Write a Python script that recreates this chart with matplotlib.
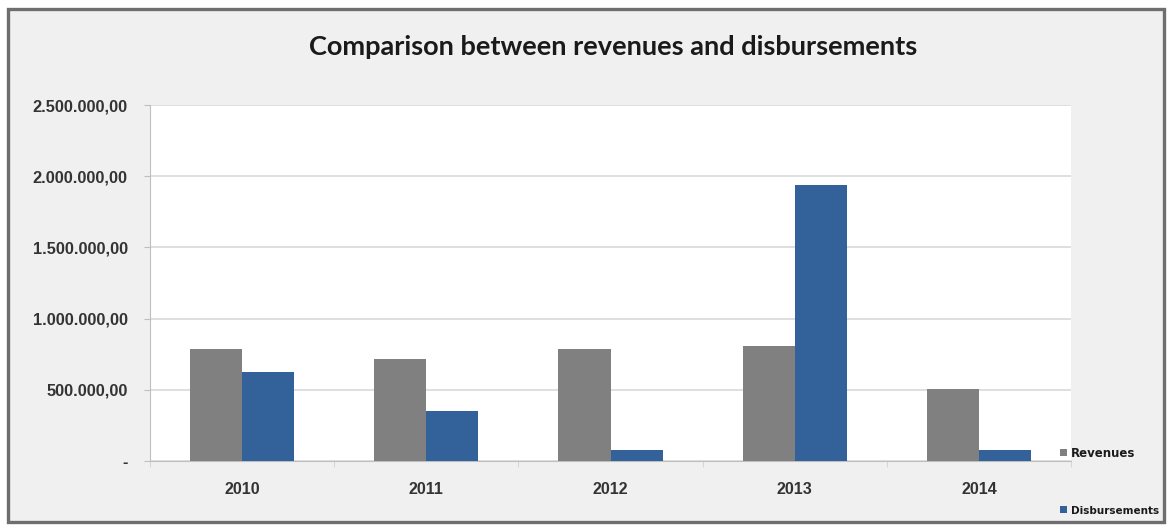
import numpy as np
import matplotlib.pyplot as plt
from matplotlib.patches import Rectangle
from matplotlib.ticker import FuncFormatter, MultipleLocator, FixedLocator

years = ['2010', '2011', '2012', '2013', '2014']
revenues = [785000, 715000, 785000, 806000, 507000]
disbursements = [626000, 353000, 77000, 1940000, 77000]

def br_money(v, pos=None):
    if v == 0:
        return '-'
    s = f'{v:,.2f}'
    return s.replace(',', 'X').replace('.', ',').replace('X', '.')

fig = plt.figure(figsize=(11.71, 5.26), dpi=100, facecolor='white')

# grey card with a dark frame behind the chart
frame = Rectangle((8 / 1171, 4 / 526), 1156 / 1171, 513 / 526, transform=fig.transFigure,
                  facecolor='#f0f0f0', edgecolor='#6e6e6e', lw=2.4, zorder=-5)
fig.patches.append(frame)

ax = fig.add_axes([150 / 1171, 65 / 526, 921 / 1171, 356 / 526])
ax.set_facecolor('white')

x = np.arange(len(years))
w = 0.283
ax.bar(x - w, revenues, w, align='edge', color='#808080', label='Revenues', zorder=3)
ax.bar(x, disbursements, w, align='edge', color='#33629b', label='Disbursements', zorder=3)

ax.set_xlim(-0.5, len(years) - 0.5)
ax.set_ylim(0, 2500000)
ax.yaxis.set_major_locator(MultipleLocator(500000))
ax.yaxis.set_major_formatter(FuncFormatter(br_money))
ax.grid(axis='y', color='#d9d9d9', lw=1.2, zorder=0)

ax.set_xticks(x)
ax.set_xticklabels(years)
ax.xaxis.set_minor_locator(FixedLocator(np.arange(-0.5, len(years), 1.0)))
ax.tick_params(axis='x', which='major', length=0, pad=15, labelsize=11.5, labelcolor='#333333')
ax.tick_params(axis='x', which='minor', length=4, color='#d0d0d0', direction='out')
ax.tick_params(axis='y', length=4, color='#bfbfbf', pad=12, labelsize=11.8, labelcolor='#333333')

for lbl in ax.get_xticklabels() + ax.get_yticklabels():
    lbl.set_fontfamily('Liberation Sans')
    lbl.set_fontweight('bold')

for side in ['top', 'right']:
    ax.spines[side].set_visible(False)
ax.spines['left'].set_color('#bfbfbf')
ax.spines['bottom'].set_color('#bfbfbf')

fig.text(613 / 1171, 1 - 47 / 526, 'Comparison between revenues and disbursements', ha='center', va='center',
         fontsize=19.5, fontweight='bold', family='Lato', color='#1a1a1a')

leg = fig.legend(loc='lower left', bbox_to_anchor=(1052 / 1171, 2 / 526), frameon=False,
                 fontsize=8.5, handlelength=0.6, handleheight=0.6, handletextpad=0.3,
                 labelspacing=3.9, borderaxespad=0.3)
for t in leg.get_texts():
    t.set_fontweight('bold')
    t.set_color('#1a1a1a')
leg.get_texts()[1].set_fontsize(7.5)

fig.savefig('out.png', dpi=100, facecolor='white')
